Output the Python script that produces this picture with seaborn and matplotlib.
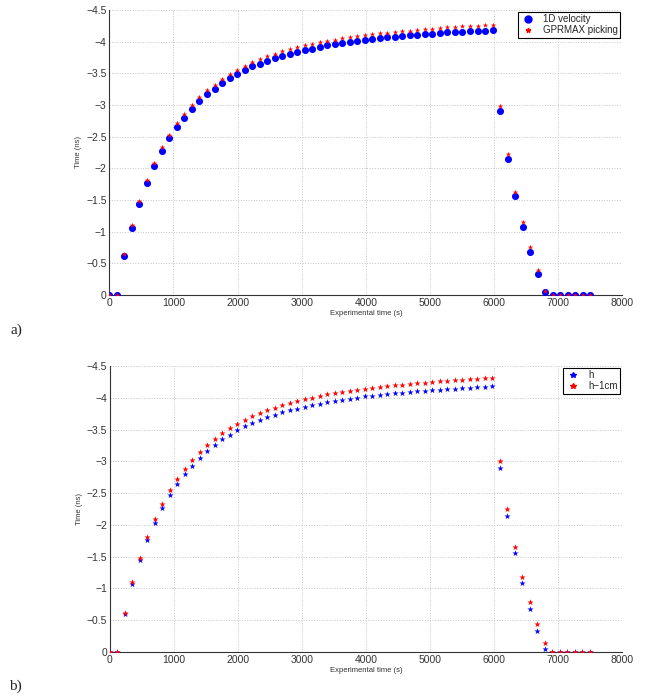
import numpy as np
import pandas as pd
import seaborn as sns
import matplotlib
matplotlib.use("Agg")
import matplotlib.pyplot as plt
from matplotlib.ticker import FuncFormatter
from matplotlib.lines import Line2D

# Sampling times (s): 65 picks, evenly spaced between 0 and 7500 s
time_s = np.linspace(0, 7500, 65)

# Panel a) travel times (ns)
velocity_1d = [0, 0, -0.61, -1.065, -1.44, -1.77, -2.03, -2.27, -2.475, -2.65,
               -2.80, -2.94, -3.06, -3.17, -3.26, -3.345, -3.42, -3.49, -3.55, -3.61,
               -3.655, -3.70, -3.74, -3.775, -3.81, -3.84, -3.865, -3.89, -3.92, -3.94,
               -3.96, -3.972, -3.992, -4.008, -4.024, -4.04, -4.05, -4.066, -4.076, -4.087,
               -4.098, -4.108, -4.118, -4.123, -4.134, -4.145, -4.15, -4.155, -4.166, -4.17,
               -4.176, -4.186,
               -2.91, -2.14, -1.56, -1.08, -0.68, -0.33, -0.05,
               0, 0, 0, 0, 0, 0]
gprmax_picking = [0, 0, -0.64, -1.10, -1.48, -1.81, -2.08, -2.33, -2.53, -2.71,
                  -2.86, -3.0, -3.12, -3.23, -3.32, -3.41, -3.49, -3.56, -3.62, -3.68,
                  -3.73, -3.77, -3.81, -3.85, -3.88, -3.91, -3.94, -3.96, -3.99, -4.01,
                  -4.03, -4.06, -4.075, -4.09, -4.10, -4.115, -4.13, -4.14, -4.155, -4.165,
                  -4.175, -4.185, -4.195, -4.205, -4.215, -4.225, -4.23, -4.24, -4.245, -4.255,
                  -4.26, -4.27,
                  -2.98, -2.22, -1.62, -1.15, -0.76, -0.39, -0.06,
                  0, 0, 0, 0, 0, 0]

# Panel b) travel times (ns)
h = [0, 0, -0.60, -1.07, -1.45, -1.762, -2.035, -2.266, -2.475, -2.643,
     -2.796, -2.926, -3.052, -3.167, -3.262, -3.346, -3.419, -3.488, -3.551, -3.603,
     -3.65, -3.697, -3.734, -3.771, -3.803, -3.828, -3.86, -3.886, -3.906, -3.928,
     -3.954, -3.97, -3.985, -4.0, -4.023, -4.033, -4.048, -4.059, -4.07, -4.08,
     -4.09, -4.1, -4.11, -4.122, -4.127, -4.138, -4.143, -4.148, -4.158, -4.164,
     -4.174, -4.185,
     -2.9, -2.14, -1.557, -1.08, -0.68, -0.33, -0.05,
     0, 0, 0, 0, 0, 0]
h_1cm = [0, 0, -0.61, -1.10, -1.48, -1.814, -2.097, -2.333, -2.544, -2.727,
         -2.879, -3.021, -3.147, -3.257, -3.356, -3.446, -3.519, -3.587, -3.65, -3.708,
         -3.755, -3.803, -3.844, -3.881, -3.917, -3.949, -3.975, -4.0, -4.028, -4.054,
         -4.07, -4.09, -4.106, -4.122, -4.138, -4.154, -4.169, -4.18, -4.196, -4.206,
         -4.216, -4.227, -4.237, -4.248, -4.258, -4.269, -4.274, -4.284, -4.29, -4.3,
         -4.306, -4.316,
         -3.01, -2.245, -1.657, -1.185, -0.782, -0.44, -0.14,
         0, 0, 0, 0, 0, 0]

df_a = pd.DataFrame({"t": time_s, "v1d": velocity_1d, "gpr": gprmax_picking})
df_b = pd.DataFrame({"t": time_s, "h": h, "h1": h_1cm})

sns.set_style("white")
plt.rcParams["font.family"] = ["Liberation Sans", "DejaVu Sans"]

AX_COL = "#333333"
BLUE = "#0000ff"
RED = "#ff0000"

fig = plt.figure(figsize=(6.45, 6.99), dpi=100)
ax_a = fig.add_axes([0.1695, 0.578, 0.7953, 0.4077])
ax_b = fig.add_axes([0.1705, 0.0672, 0.7938, 0.4092])

minus_fmt = FuncFormatter(lambda v, p: f"{v:g}".replace("-", "\u2212"))


def matlab_axes(ax):
    ax.set_xlim(0, 8000)
    ax.set_ylim(0, -4.5)
    ax.set_xticks(np.arange(0, 8001, 1000))
    ax.set_yticks(np.arange(-4.5, 0.01, 0.5))
    ax.yaxis.set_major_formatter(minus_fmt)
    ax.grid(True, linestyle=":", color="#c4c4c4", linewidth=0.7)
    for side in ["top", "right"]:
        ax.spines[side].set_visible(False)
    for side in ["left", "bottom"]:
        ax.spines[side].set_color(AX_COL)
        ax.spines[side].set_linewidth(0.8)
    ax.tick_params(direction="in", length=3, width=0.8, colors=AX_COL,
                   labelsize=7.5, pad=2)
    ax.set_xlabel("Experimental time (s)", fontsize=5.5, labelpad=1.5, color=AX_COL)
    ax.set_ylabel("Time (ns)", fontsize=5.5, labelpad=3, color=AX_COL)


# a) 1D velocity vs GPRMAX picking
sns.scatterplot(data=df_a, x="t", y="v1d", ax=ax_a, color=BLUE, marker="o",
                s=26, linewidth=0, zorder=3)
sns.scatterplot(data=df_a, x="t", y="gpr", ax=ax_a, color=RED, marker="*",
                s=16, linewidth=0, zorder=4)
matlab_axes(ax_a)
handles_a = [Line2D([], [], ls="", marker="o", color=BLUE, markersize=5),
             Line2D([], [], ls="", marker="*", color=RED, markersize=3.5)]
leg_a = ax_a.legend(handles_a, ["1D velocity", "GPRMAX picking"], loc="upper right",
                    bbox_to_anchor=(0.996, 0.993), fontsize=7, frameon=True,
                    fancybox=False, edgecolor="black", framealpha=1,
                    borderpad=0.25, labelspacing=0.1, handletextpad=0.8,
                    handlelength=1.5, borderaxespad=0)
leg_a.get_frame().set_linewidth(0.8)

# b) h vs h-1cm
sns.scatterplot(data=df_b, x="t", y="h", ax=ax_b, color=BLUE, marker="*",
                s=22, linewidth=0, zorder=3)
sns.scatterplot(data=df_b, x="t", y="h1", ax=ax_b, color=RED, marker="*",
                s=22, linewidth=0, zorder=4)
matlab_axes(ax_b)
handles_b = [Line2D([], [], ls="", marker="*", color=BLUE, markersize=4),
             Line2D([], [], ls="", marker="*", color=RED, markersize=4)]
leg_b = ax_b.legend(handles_b, ["h", "h\u22121cm"], loc="upper right",
                    bbox_to_anchor=(0.996, 0.993), fontsize=7, frameon=True,
                    fancybox=False, edgecolor="black", framealpha=1,
                    borderpad=0.25, labelspacing=0.1, handletextpad=0.8,
                    handlelength=1.5, borderaxespad=0)
leg_b.get_frame().set_linewidth(0.8)

# panel tags
fig.text(0.025, 0.528, "a)", fontsize=11, family="Liberation Serif",
         ha="center", va="center")
fig.text(0.024, 0.0186, "b)", fontsize=11, family="Liberation Serif",
         ha="center", va="center")

plt.savefig("out.png", dpi=100)
